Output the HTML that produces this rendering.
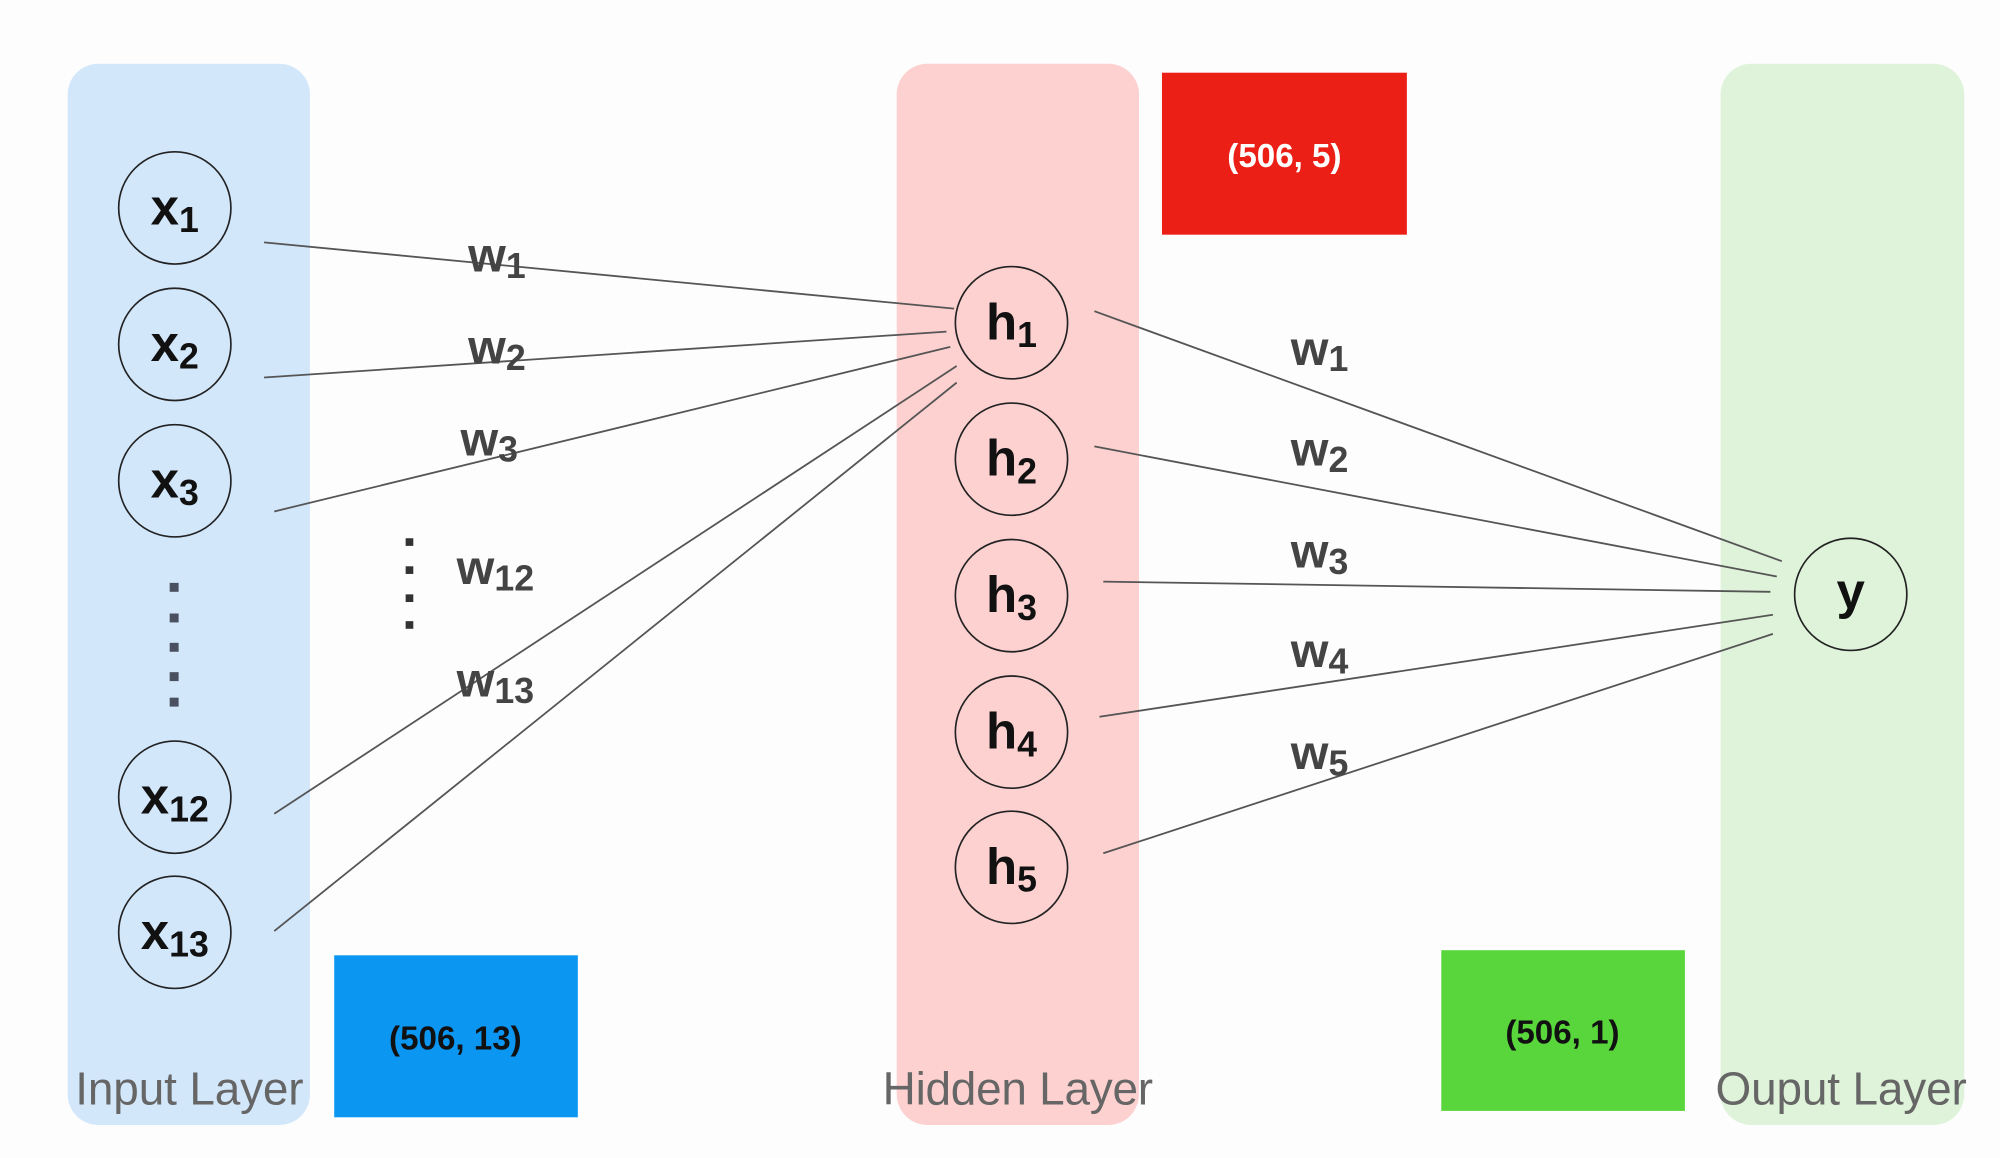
<!DOCTYPE html>
<html><head><style>html,body{margin:0;padding:0;background:#fdfdfd;}</style></head>
<body>
<svg width="2000" height="1153" viewBox="0 0 1568 904" xmlns="http://www.w3.org/2000/svg" font-family="Liberation Sans, sans-serif">
<rect x="0" y="0" width="1568" height="904" fill="#fdfdfd"/>
<rect x="53" y="50" width="190" height="832" rx="24" fill="#d3e7fb"/>
<rect x="703" y="50" width="190" height="832" rx="24" fill="#fdd1d0"/>
<rect x="1349" y="50" width="191" height="832" rx="24" fill="#def3d9"/>
<rect x="911" y="57" width="192" height="127" fill="#eb1f15"/>
<rect x="262" y="749" width="191" height="127" fill="#0b96f2"/>
<rect x="1130" y="745" width="191" height="126" fill="#59d63b"/>
<g font-weight="bold" font-size="26" text-anchor="middle">
<text x="1007" y="131" fill="#fff">(506, 5)</text>
<text x="357" y="823" fill="#111">(506, 13)</text>
<text x="1225" y="818" fill="#111">(506, 1)</text>
</g>
<g stroke="#555" stroke-width="1.4" fill="none">
<line x1="207" y1="190" x2="748" y2="242"/>
<line x1="207" y1="296" x2="742" y2="260"/>
<line x1="215" y1="401" x2="745" y2="272"/>
<line x1="215" y1="638" x2="750" y2="287"/>
<line x1="215" y1="730" x2="750" y2="300"/>
<line x1="858" y1="244" x2="1397" y2="440"/>
<line x1="858" y1="350" x2="1393" y2="452"/>
<line x1="865" y1="456" x2="1388" y2="464"/>
<line x1="862" y1="562" x2="1390" y2="482"/>
<line x1="865" y1="669" x2="1390" y2="497"/>
</g>
<g stroke="#222" stroke-width="1.3" fill="none">
<circle cx="137" cy="163" r="44"/><circle cx="137" cy="270" r="44"/><circle cx="137" cy="377" r="44"/>
<circle cx="137" cy="625" r="44"/><circle cx="137" cy="731" r="44"/>
<circle cx="793" cy="253" r="44"/><circle cx="793" cy="360" r="44"/><circle cx="793" cy="467" r="44"/>
<circle cx="793" cy="574" r="44"/><circle cx="793" cy="680" r="44"/>
<circle cx="1451" cy="466" r="44"/>
</g>
<g font-weight="bold" font-size="40" fill="#111" text-anchor="middle">
<text x="137" y="176">x<tspan font-size="28" dy="6">1</tspan></text>
<text x="137" y="283">x<tspan font-size="28" dy="6">2</tspan></text>
<text x="137" y="390">x<tspan font-size="28" dy="6">3</tspan></text>
<text x="137" y="638">x<tspan font-size="28" dy="6">12</tspan></text>
<text x="137" y="744">x<tspan font-size="28" dy="6">13</tspan></text>
<text x="793" y="266">h<tspan font-size="28" dy="6">1</tspan></text>
<text x="793" y="373">h<tspan font-size="28" dy="6">2</tspan></text>
<text x="793" y="480">h<tspan font-size="28" dy="6">3</tspan></text>
<text x="793" y="587">h<tspan font-size="28" dy="6">4</tspan></text>
<text x="793" y="693">h<tspan font-size="28" dy="6">5</tspan></text>
<text x="1451" y="477">y</text>
</g>
<g font-weight="bold" font-size="38" fill="#444">
<text x="367" y="213">w<tspan font-size="28" dy="5">1</tspan></text>
<text x="367" y="285">w<tspan font-size="28" dy="5">2</tspan></text>
<text x="361" y="357">w<tspan font-size="28" dy="5">3</tspan></text>
<text x="358" y="458">w<tspan font-size="28" dy="5">12</tspan></text>
<text x="358" y="546">w<tspan font-size="28" dy="5">13</tspan></text>
<text x="1012" y="286">w<tspan font-size="28" dy="5">1</tspan></text>
<text x="1012" y="365">w<tspan font-size="28" dy="5">2</tspan></text>
<text x="1012" y="445">w<tspan font-size="28" dy="5">3</tspan></text>
<text x="1012" y="523">w<tspan font-size="28" dy="5">4</tspan></text>
<text x="1012" y="603">w<tspan font-size="28" dy="5">5</tspan></text>
</g>
<g fill="#4a5060">
<rect x="133" y="457" width="7" height="7"/><rect x="133" y="481" width="7" height="7"/><rect x="133" y="504" width="7" height="7"/><rect x="133" y="527" width="7" height="7"/><rect x="133" y="547" width="7" height="7"/>
</g>
<g fill="#333">
<rect x="318" y="422" width="6" height="6"/><rect x="318" y="444" width="6" height="6"/><rect x="318" y="466" width="6" height="6"/><rect x="318" y="487" width="6" height="6"/>
</g>
<g font-size="36" fill="#666">
<text x="59" y="866" textLength="179">Input Layer</text>
<text x="692" y="866" textLength="212">Hidden Layer</text>
<text x="1345" y="866" textLength="197">Ouput Layer</text>
</g>
</svg>
</body></html>
